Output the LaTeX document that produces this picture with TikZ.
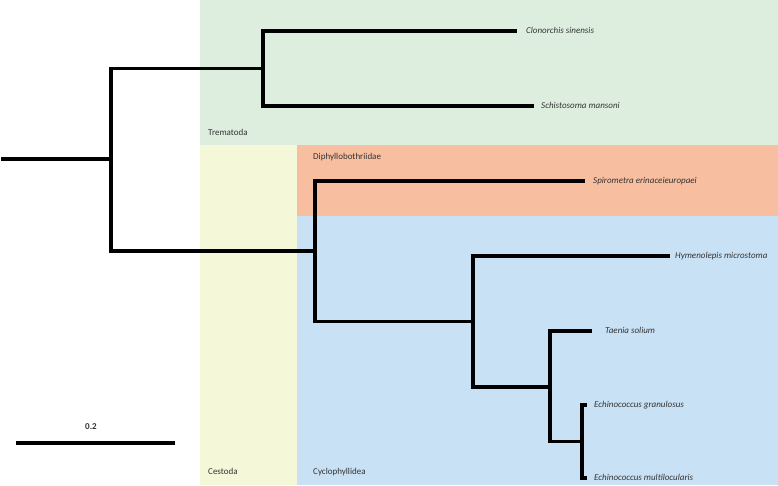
\documentclass[tikz,border=0pt]{standalone}
\usepackage{fontspec}
\setmainfont{Carlito}
\begin{document}
\begin{tikzpicture}[x=1pt,y=-1pt,
  branch/.style={line width=3.4pt,black,line join=miter},
  leaf/.style={anchor=west,inner sep=0pt,font=\fontsize{9}{10}\selectfont\itshape,text=black!80,text height=6.5pt,text depth=1.8pt},
  grouplabel/.style={anchor=west,inner sep=0pt,font=\fontsize{9}{10}\selectfont,text=black!80,text height=6.5pt,text depth=1.8pt}]
\definecolor{tremgreen}{HTML}{DDEEDF}
\definecolor{cestyellow}{HTML}{F5F7D9}
\definecolor{diphorange}{HTML}{F8BEA0}
\definecolor{cycblue}{HTML}{C8E1F5}
\useasboundingbox (0,0) rectangle (778,485);
\fill[white] (0,0) rectangle (778,485);
% background groups
\fill[tremgreen] (200,0) rectangle (778,145);
\fill[cestyellow] (200,145) rectangle (297,485);
\fill[diphorange] (297,145) rectangle (778,216);
\fill[cycblue] (297,216) rectangle (778,485);
\node[grouplabel] (trem) at (208,133) {Trematoda};
\node[grouplabel] (diph) at (313,157) {Diphyllobothriidae};
\node[grouplabel] (cest) at (208,472) {Cestoda};
\node[grouplabel] (cyc) at (313,472) {Cyclophyllidea};
% internal nodes
\coordinate (root) at (1,159);
\coordinate (n1) at (111,159);
\coordinate (nT) at (263,68.5);
\coordinate (nC) at (315,251);
\coordinate (nCy) at (473,321.5);
\coordinate (nTE) at (550,387);
\coordinate (nE) at (582,441.5);
% leaves
\node[leaf] (clon) at (526,31) {Clonorchis sinensis};
\node[leaf] (schi) at (541,106) {Schistosoma mansoni};
\node[leaf] (spir) at (593,181) {Spirometra erinaceieuropaei};
\node[leaf] (hym) at (675,256) {Hymenolepis microstoma};
\node[leaf] (tae) at (605,331) {Taenia solium};
\node[leaf] (egr) at (594,405) {Echinococcus granulosus};
\node[leaf] (emu) at (594,478) {Echinococcus multilocularis};
% branches
\draw[branch] (root) -- (n1);
\draw[branch] (n1) |- (nT);
\draw[branch] (n1) |- (nC);
\draw[branch] (nT) |- ([xshift=-9pt]clon.west);
\draw[branch] (nT) |- ([xshift=-7pt]schi.west);
\draw[branch] (nC) |- ([xshift=-8pt]spir.west);
\draw[branch] (nC) |- (nCy);
\draw[branch] (nCy) |- ([xshift=-5pt]hym.west);
\draw[branch] (nCy) |- (nTE);
\draw[branch] (nTE) |- ([xshift=-13pt]tae.west);
\draw[branch] (nTE) |- (nE);
\draw[branch] (nE) |- ([xshift=-7pt]egr.west);
\draw[branch] (nE) |- ([xshift=-7pt]emu.west);
% scale bar
\coordinate (sb1) at (16,443);
\coordinate (sb2) at (175,443);
\draw[branch] (sb1) -- (sb2);
\node[grouplabel,anchor=center,font=\fontsize{9}{10}\selectfont\bfseries] (sblab) at (91,427) {0.2};
\end{tikzpicture}
\end{document}
